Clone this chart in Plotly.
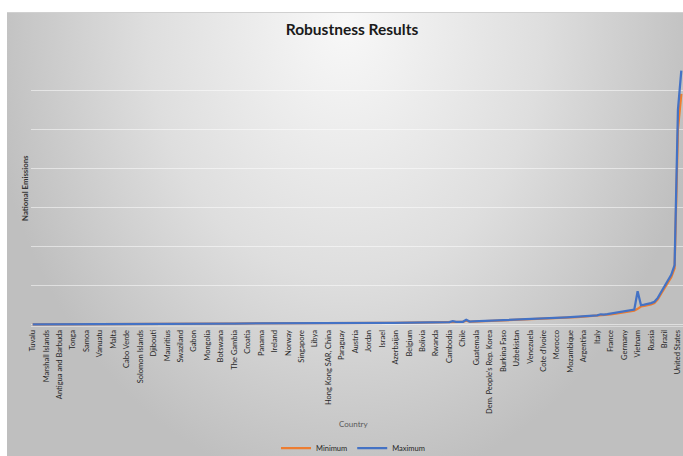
import base64
import plotly.graph_objects as go

# ---------------- data ----------------
tick_labels = [
    "Tuvalu", "Marshall Islands", "Antigua and Barbuda", "Tonga", "Samoa", "Vanuatu",
    "Malta", "Cabo Verde", "Solomon Islands", "Djibouti", "Mauritius", "Swaziland",
    "Gabon", "Mongolia", "Botswana", "The Gambia", "Croatia", "Panama", "Ireland",
    "Norway", "Singapore", "Libya", "Hong Kong SAR, China", "Paraguay", "Austria",
    "Jordan", "Israel", "Azerbaijan", "Belgium", "Bolivia", "Rwanda", "Cambodia",
    "Chile", "Guatemala", "Dem. People's Rep. Korea", "Burkina Faso", "Uzbekistan",
    "Venezuela", "Cote d'Ivoire", "Morocco", "Mozambique", "Argentina", "Italy",
    "France", "Germany", "Vietnam", "Russia", "Brazil", "United States",
]
label_step = 4  # every 4th country is labelled on the axis

maximum = [
    0.002, 0.002, 0.003, 0.003, 0.003, 0.004, 0.004, 0.004, 0.005, 0.005,
    0.005, 0.006, 0.006, 0.006, 0.007, 0.007, 0.007, 0.008, 0.008, 0.008,
    0.009, 0.009, 0.010, 0.010, 0.010, 0.011, 0.011, 0.011, 0.012, 0.012,
    0.012, 0.013, 0.013, 0.013, 0.014, 0.014, 0.014, 0.015, 0.015, 0.015,
    0.016, 0.016, 0.016, 0.017, 0.017, 0.017, 0.018, 0.018, 0.018, 0.019,
    0.019, 0.019, 0.020, 0.020, 0.020, 0.020, 0.021, 0.021, 0.021, 0.021,
    0.022, 0.022, 0.022, 0.022, 0.023, 0.023, 0.023, 0.023, 0.024, 0.024,
    0.024, 0.024, 0.025, 0.025, 0.025, 0.026, 0.026, 0.026, 0.027, 0.027,
    0.027, 0.028, 0.028, 0.028, 0.029, 0.029, 0.030, 0.030, 0.030, 0.031,
    0.031, 0.032, 0.032, 0.033, 0.033, 0.034, 0.034, 0.035, 0.035, 0.036,
    0.036, 0.037, 0.037, 0.038, 0.039, 0.040, 0.041, 0.042, 0.043, 0.044,
    0.045, 0.046, 0.047, 0.048, 0.049, 0.050, 0.052, 0.054, 0.056, 0.058,
    0.058, 0.059, 0.060, 0.061, 0.062, 0.085, 0.064, 0.066, 0.068, 0.120,
    0.074, 0.077, 0.080, 0.083, 0.087, 0.091, 0.095, 0.099, 0.103, 0.107,
    0.111, 0.115, 0.120, 0.125, 0.130, 0.138, 0.141, 0.144, 0.147, 0.150,
    0.153, 0.156, 0.159, 0.161, 0.163, 0.165, 0.168, 0.172, 0.177, 0.182,
    0.187, 0.192, 0.197, 0.203, 0.209, 0.215, 0.221, 0.227, 0.234, 0.260,
    0.250, 0.262, 0.275, 0.290, 0.305, 0.318, 0.330, 0.342, 0.355, 0.380,
    0.850, 0.490, 0.505, 0.520, 0.545, 0.580, 0.680, 0.830, 0.990, 1.130,
    1.270, 1.520, 5.500, 6.500,
]

minimum = [
    0.002, 0.002, 0.003, 0.003, 0.003, 0.004, 0.004, 0.004, 0.005, 0.005,
    0.005, 0.006, 0.006, 0.006, 0.007, 0.007, 0.007, 0.008, 0.008, 0.008,
    0.009, 0.009, 0.010, 0.010, 0.010, 0.011, 0.011, 0.011, 0.012, 0.012,
    0.012, 0.013, 0.013, 0.013, 0.014, 0.014, 0.014, 0.015, 0.015, 0.015,
    0.016, 0.016, 0.016, 0.017, 0.017, 0.017, 0.018, 0.018, 0.018, 0.019,
    0.019, 0.019, 0.020, 0.020, 0.020, 0.020, 0.021, 0.021, 0.021, 0.021,
    0.022, 0.022, 0.022, 0.022, 0.023, 0.023, 0.023, 0.023, 0.024, 0.024,
    0.024, 0.024, 0.025, 0.025, 0.025, 0.026, 0.026, 0.026, 0.027, 0.027,
    0.027, 0.028, 0.028, 0.028, 0.029, 0.029, 0.030, 0.030, 0.030, 0.031,
    0.031, 0.032, 0.032, 0.033, 0.033, 0.034, 0.034, 0.035, 0.035, 0.036,
    0.035, 0.036, 0.036, 0.037, 0.038, 0.039, 0.040, 0.041, 0.042, 0.043,
    0.044, 0.045, 0.046, 0.047, 0.048, 0.049, 0.050, 0.052, 0.053, 0.055,
    0.055, 0.056, 0.057, 0.058, 0.059, 0.068, 0.061, 0.062, 0.064, 0.095,
    0.070, 0.073, 0.076, 0.079, 0.082, 0.086, 0.090, 0.094, 0.098, 0.101,
    0.105, 0.109, 0.113, 0.118, 0.123, 0.130, 0.134, 0.137, 0.140, 0.143,
    0.146, 0.149, 0.151, 0.153, 0.155, 0.157, 0.160, 0.163, 0.167, 0.172,
    0.176, 0.181, 0.186, 0.191, 0.197, 0.203, 0.208, 0.214, 0.220, 0.240,
    0.236, 0.247, 0.259, 0.273, 0.287, 0.299, 0.310, 0.321, 0.333, 0.355,
    0.400, 0.460, 0.475, 0.490, 0.515, 0.550, 0.640, 0.790, 0.940, 1.075,
    1.210, 1.440, 5.000, 5.900,
]

# ---------------- figure ----------------
W, H = 683, 456
ML, MR, MT = 31, 0, 51
MB = H - 326
n = len(maximum)
x_idx = list(range(n))
tick_positions = list(range(0, len(tick_labels) * label_step, label_step))

FONT = "Lato, 'Open Sans', sans-serif"

fig = go.Figure()
fig.add_trace(go.Scatter(x=x_idx, y=minimum, mode="lines", name="Minimum",
                         line=dict(color="#ED7D31", width=2.25)))
fig.add_trace(go.Scatter(x=x_idx, y=maximum, mode="lines", name="Maximum",
                         line=dict(color="#4472C4", width=2.25)))

# gradient chart background (SVG data URI)
BGW, BGH = 683 - 7, 456 - 12
svg = (
    f'<svg xmlns="http://www.w3.org/2000/svg" width="{BGW}" height="{BGH}" viewBox="0 0 {BGW} {BGH}">'
    '<defs><radialGradient id="g" gradientUnits="userSpaceOnUse" cx="338" cy="10" r="360" '
    'gradientTransform="translate(338 10) scale(1 1.3) translate(-338 -10)">'
    '<stop offset="0" stop-color="#f8f8f8"/><stop offset="0.55" stop-color="#dedede"/>'
    '<stop offset="1" stop-color="#bfbfbf"/></radialGradient></defs>'
    f'<rect x="0" y="0" width="{BGW}" height="{BGH}" fill="url(#g)"/>'
    f'<line x1="0" y1="0.5" x2="{BGW}" y2="0.5" stroke="#d0d0d0" stroke-width="1"/>'
    '</svg>'
)
src = "data:image/svg+xml;base64," + base64.b64encode(svg.encode()).decode()

pw = W - ML - MR
ph = H - MT - MB
plot_bottom = H - MB


def px_to_paper_x(px):
    return (px - ML) / pw


def px_to_paper_y(py):
    return (plot_bottom - py) / ph


fig.add_layout_image(dict(
    source=src, xref="paper", yref="paper",
    x=px_to_paper_x(7), y=px_to_paper_y(12),
    sizex=BGW / pw, sizey=BGH / ph,
    xanchor="left", yanchor="top", sizing="stretch", layer="below",
))

fig.update_layout(
    width=W, height=H,
    margin=dict(l=ML, r=MR, t=MT, b=MB, pad=0, autoexpand=False),
    paper_bgcolor="white",
    plot_bgcolor="rgba(0,0,0,0)",
    font=dict(family=FONT, color="#404040"),
    title=dict(text="<b>Robustness Results</b>", x=352 / W, xref="container",
               xanchor="center", y=1 - 30 / H, yref="container", yanchor="middle",
               font=dict(family=FONT, size=15.5, color="#1a1a1a")),
    showlegend=True,
    legend=dict(orientation="h", x=px_to_paper_x(353), xanchor="center",
                y=px_to_paper_y(448), yanchor="middle",
                bgcolor="rgba(0,0,0,0)", itemwidth=30,
                font=dict(family=FONT, size=7.5, color="#262626")),
    xaxis=dict(
        range=[-0.5, n - 0.5], tickmode="array", tickvals=tick_positions, ticktext=tick_labels,
        tickangle=-90, tickfont=dict(family=FONT, size=7.5, color="#262626"),
        showgrid=False, zeroline=False, showline=True, linecolor="#d9d9d9", ticks="",
        automargin=False,
    ),
    yaxis=dict(
        range=[-0.04, 7], tick0=0, dtick=1, showticklabels=False, ticks="",
        showgrid=True, gridcolor="rgba(255,255,255,0.5)", gridwidth=1,
        zeroline=False, showline=False, automargin=False,
    ),
    annotations=[
        dict(text="<b>National Emissions</b>", xref="paper", yref="paper",
             x=px_to_paper_x(25), y=px_to_paper_y(188), textangle=-90,
             showarrow=False, xanchor="center", yanchor="middle",
             font=dict(family=FONT, size=7.8, color="#333333")),
        dict(text="Country", xref="paper", yref="paper",
             x=px_to_paper_x(353), y=px_to_paper_y(424),
             showarrow=False, xanchor="center", yanchor="middle",
             font=dict(family=FONT, size=8, color="#595959")),
    ],
)

fig.write_html(
    "out.html",
    config={"displayModeBar": False},
    post_script="document.body.style.margin='0';document.body.style.overflow='hidden';",
)
